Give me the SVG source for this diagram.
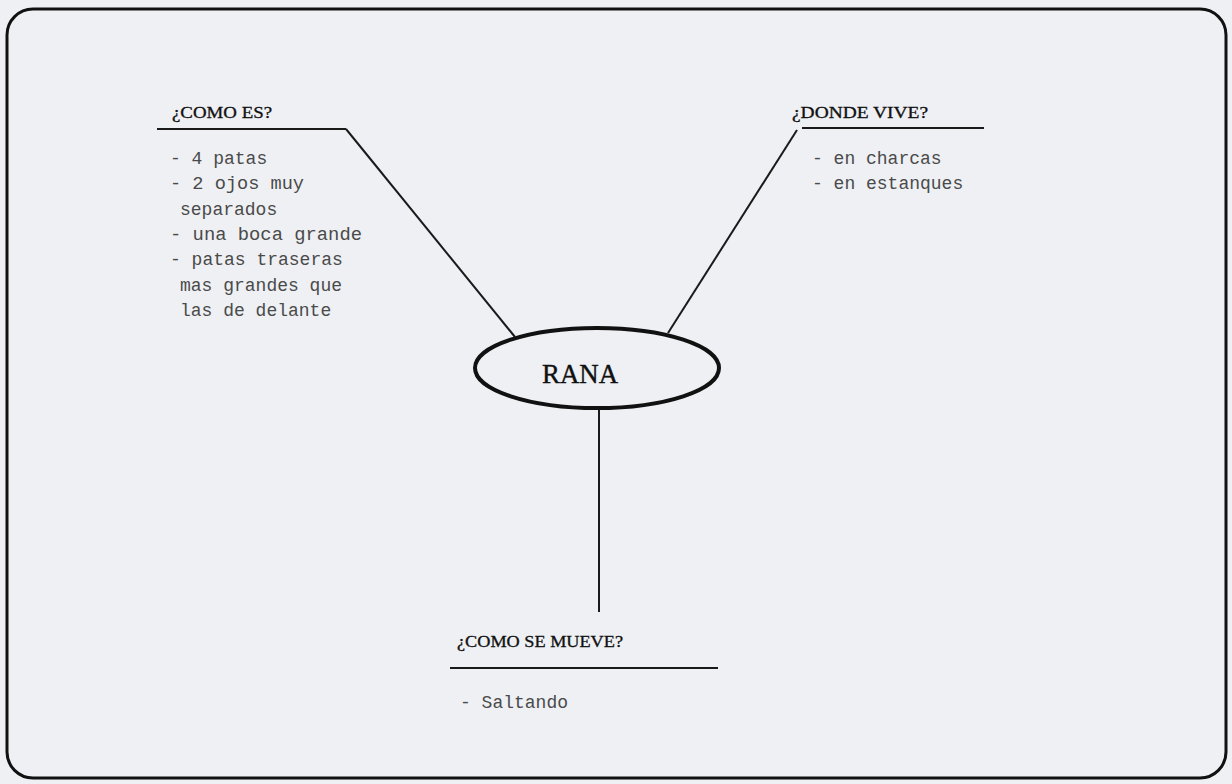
<svg xmlns="http://www.w3.org/2000/svg" width="1232" height="784" viewBox="0 0 1232 784">
<style>
.h{font-family:"Liberation Serif","DejaVu Serif",serif;font-size:16px;fill:#111;stroke:#111;stroke-width:0.3}
.t{font-family:"Liberation Mono","DejaVu Sans Mono",monospace;font-size:18px;fill:#4a4a4a}
.ln{stroke:#1a1a1a;stroke-width:2;fill:none}
</style>
<rect x="0" y="0" width="1232" height="784" fill="#eef0f4"/>
<rect x="7" y="9" width="1219" height="769" rx="26" fill="none" stroke="#111" stroke-width="3"/>
<g id="connectors">
<line class="ln" x1="157" y1="129" x2="346" y2="129"/>
<line class="ln" x1="346" y1="129" x2="515" y2="337"/>
<line class="ln" x1="802" y1="128" x2="984" y2="128"/>
<line class="ln" x1="797" y1="130" x2="668" y2="333"/>
<line class="ln" x1="599" y1="410" x2="599" y2="612"/>
<line class="ln" x1="450" y1="668" x2="718" y2="668"/>
</g>
<g id="rana">
<ellipse cx="597" cy="368" rx="122" ry="40" fill="none" stroke="#111" stroke-width="4"/>
<text x="542" y="383" font-family="Liberation Serif, serif" font-size="28" fill="#111" stroke="#111" stroke-width="0.4" textLength="76" lengthAdjust="spacingAndGlyphs">RANA</text>
</g>
<g id="como-es">
<text class="h" x="172" y="118" textLength="100" lengthAdjust="spacingAndGlyphs">¿COMO ES?</text>
<text class="t" x="170" y="164">- 4 patas</text>
<text class="t" x="170" y="189" textLength="134" lengthAdjust="spacingAndGlyphs">- 2 ojos muy</text>
<text class="t" x="180" y="215">separados</text>
<text class="t" x="170" y="240" textLength="192" lengthAdjust="spacingAndGlyphs">- una boca grande</text>
<text class="t" x="170" y="265">- patas traseras</text>
<text class="t" x="180" y="291">mas grandes que</text>
<text class="t" x="180" y="316">las de delante</text>
</g>
<g id="donde-vive">
<text class="h" x="792" y="118" textLength="136" lengthAdjust="spacingAndGlyphs">¿DONDE VIVE?</text>
<text class="t" x="812" y="164">- en charcas</text>
<text class="t" x="812" y="189">- en estanques</text>
</g>
<g id="como-se-mueve">
<text class="h" x="457" y="647" textLength="166" lengthAdjust="spacingAndGlyphs">¿COMO SE MUEVE?</text>
<text class="t" x="460" y="708">- Saltando</text>
</g>
</svg>
